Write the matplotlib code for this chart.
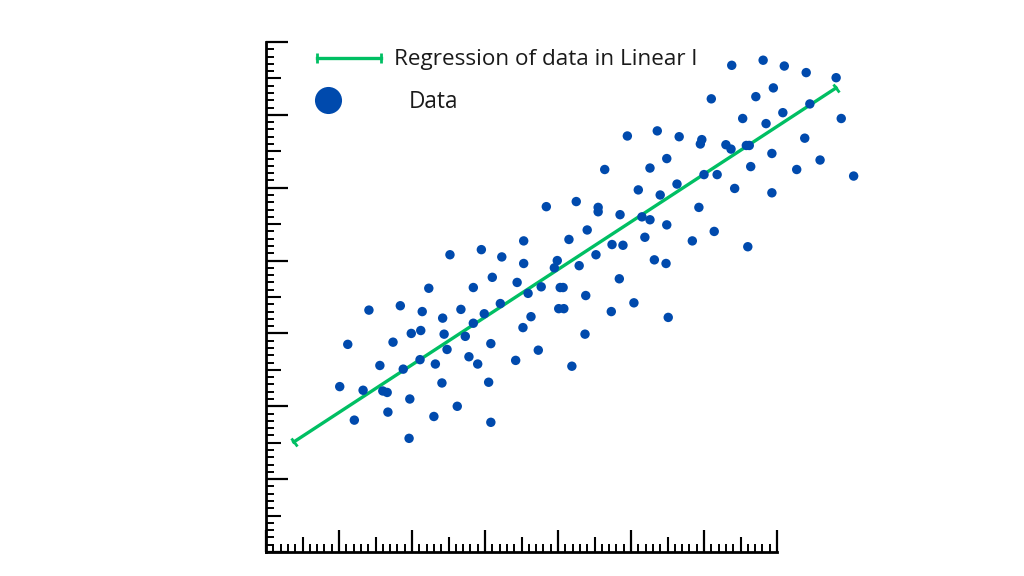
import numpy as np
import matplotlib
matplotlib.use("Agg")
import matplotlib.pyplot as plt
from matplotlib.lines import Line2D
from matplotlib.markers import MarkerStyle
from matplotlib.transforms import Affine2D
from matplotlib.ticker import MultipleLocator, NullFormatter

# scatter data (axis units: 0..7 on both axes)
data_x = [1.01, 1.12, 1.21, 1.33, 1.41, 1.56, 1.60, 1.66, 1.67, 1.74,
          1.84, 1.88, 1.96, 1.97, 1.99, 2.11, 2.12, 2.14, 2.23, 2.30,
          2.32, 2.41, 2.42, 2.44, 2.48, 2.52, 2.62, 2.67, 2.73, 2.78,
          2.84, 2.84, 2.90, 2.95, 2.99, 3.05, 3.08, 3.08, 3.10, 3.21,
          3.23, 3.42, 3.44, 3.52, 3.53, 3.53, 3.59, 3.63, 3.73, 3.77,
          3.84, 3.95, 3.99, 4.01, 4.03, 4.07, 4.08, 4.15, 4.19, 4.25,
          4.29, 4.37, 4.38, 4.40, 4.52, 4.55, 4.55, 4.64, 4.73, 4.74,
          4.84, 4.85, 4.89, 4.95, 5.04, 5.10, 5.15, 5.19, 5.26, 5.26,
          5.32, 5.36, 5.40, 5.48, 5.49, 5.49, 5.51, 5.63, 5.66, 5.84,
          5.93, 5.95, 5.97, 6.00, 6.10, 6.14, 6.18, 6.30, 6.37, 6.38,
          6.42, 6.53, 6.58, 6.62, 6.60, 6.64, 6.71, 6.81, 6.85, 6.93,
          6.93, 6.95, 7.08, 7.10, 7.27, 7.38, 7.40, 7.45, 7.59, 7.81,
          7.88, 8.05]
data_y = [2.27, 2.85, 1.81, 2.22, 3.32, 2.56, 2.21, 2.19, 1.92, 2.88,
          3.38, 2.51, 1.56, 2.10, 3.00, 2.64, 3.04, 3.30, 3.62, 1.86,
          2.58, 2.32, 3.21, 2.99, 2.78, 4.08, 2.00, 3.33, 2.96, 2.68,
          3.14, 3.63, 2.58, 4.15, 3.27, 2.33, 1.78, 2.86, 3.77, 3.41,
          4.05, 2.63, 3.70, 3.08, 4.27, 3.96, 3.55, 3.23, 2.77, 3.64,
          4.74, 3.90, 4.00, 3.34, 3.63, 3.63, 3.34, 4.29, 2.55, 4.81,
          3.93, 2.99, 3.52, 4.42, 4.08, 4.73, 4.67, 5.25, 3.30, 4.22,
          3.75, 4.63, 4.21, 5.71, 3.42, 4.97, 4.60, 4.32, 4.56, 5.27,
          4.01, 5.78, 4.90, 3.96, 4.49, 5.40, 3.22, 5.05, 5.70, 4.27,
          4.73, 5.60, 5.66, 5.18, 6.22, 4.40, 5.18, 5.59, 5.53, 6.68,
          4.99, 5.95, 5.58, 5.58, 4.19, 5.29, 6.25, 6.75, 5.88, 5.47,
          4.93, 6.37, 6.03, 6.67, 5.25, 5.68, 6.58, 6.15, 5.38, 6.51,
          5.95, 5.16]

# regression line end points
reg_x = [0.38, 7.81]
reg_y = [1.51, 6.37]

legend_labels = ["Regression of data in Linear l", "Data"]

blue = "#004aad"
green = "#00bf63"

fig = plt.figure(figsize=(10.24, 5.76), dpi=100)
ax = fig.add_axes([266 / 1024, 24 / 576, 511 / 1024, 510 / 576])
ax.set_xlim(0, 7)
ax.set_ylim(0, 7)

for s in ["top", "right"]:
    ax.spines[s].set_visible(False)
for s in ["left", "bottom"]:
    ax.spines[s].set_linewidth(2.0)
    ax.spines[s].set_color("black")

ax.xaxis.set_major_locator(MultipleLocator(1))
ax.yaxis.set_major_locator(MultipleLocator(1))
ax.xaxis.set_minor_locator(MultipleLocator(0.1))
ax.yaxis.set_minor_locator(MultipleLocator(0.1))
ax.xaxis.set_major_formatter(NullFormatter())
ax.yaxis.set_major_formatter(NullFormatter())
ax.tick_params(which="major", direction="in", length=16, width=1.6, color="black")
ax.tick_params(which="minor", direction="in", length=5.5, width=1.4, color="black")

# medium ticks at the halves
ident = (lambda v: v, lambda v: v)
for sec in (ax.secondary_xaxis("bottom", functions=ident),
            ax.secondary_yaxis("left", functions=ident)):
    sec.set_ticks([i + 0.5 for i in range(7)])
    sec.tick_params(direction="in", length=11, width=1.5, color="black",
                    labelbottom=False, labelleft=False)
    for sp in sec.spines.values():
        sp.set_visible(False)

# regression line with perpendicular end caps
ang = np.degrees(np.arctan2(reg_y[1] - reg_y[0], reg_x[1] - reg_x[0]))
cap = MarkerStyle("|", transform=Affine2D().rotate_deg(ang))
ax.plot(reg_x, reg_y, color=green, lw=2.4, clip_on=False, zorder=2)
ax.plot(reg_x, reg_y, ls="none", marker=cap, ms=7, mew=2, color=green,
        clip_on=False, zorder=2)

ax.scatter(data_x, data_y, s=46, color=blue, edgecolors="none",
           clip_on=False, zorder=3)

# legend drawn by hand
fig.add_artist(Line2D([317 / 1024, 381 / 1024], [1 - 58 / 576, 1 - 58 / 576],
                      transform=fig.transFigure, color=green, lw=2.4,
                      marker="|", ms=7, mew=2))
fig.add_artist(Line2D([328 / 1024], [1 - 100 / 576], transform=fig.transFigure,
                      ls="none", marker="o", ms=19.5, color=blue, mec="none"))
fig.text(394 / 1024, 1 - 60 / 576, legend_labels[0], fontsize=16.2,
         family="Open Sans", va="center", ha="left", color="#1a1a1a")
fig.text(409 / 1024, 1 - 102 / 576, legend_labels[1], fontsize=16.3,
         family="Open Sans", va="center", ha="left", color="#1a1a1a")

fig.savefig("out.png", dpi=100, facecolor="white")
